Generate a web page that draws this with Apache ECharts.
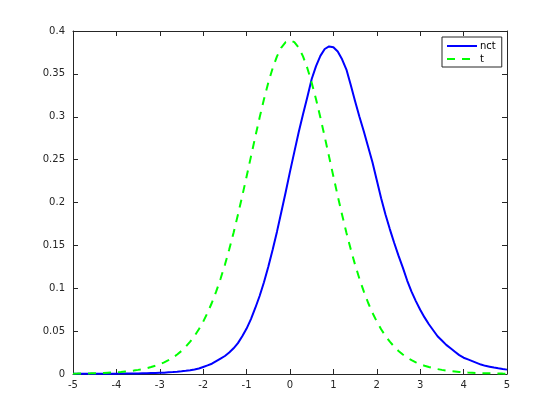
<!DOCTYPE html>
<html>
<head>
<meta charset="utf-8">
<script src="https://cdn.jsdelivr.net/npm/echarts@6/dist/echarts.min.js"></script>
<style>html,body{margin:0;padding:0;background:#fff}#c{width:560px;height:420px}</style>
</head>
<body>
<div id="c"></div>
<script>
// x grid: -5 to 5 step 0.1
var xStart = -5, xStep = 0.1;
var nctValues = [
0.0002,0.0002,0.0002,0.0002,0.0003,0.0003,0.0003,0.0003,0.0004,0.0004,
0.0004,0.0005,0.0005,0.0006,0.0007,0.0007,0.0008,0.0009,0.0011,0.0012,
0.0014,0.0016,0.0019,0.0022,0.0026,0.0031,0.0037,0.0044,0.0053,0.0064,
0.0082,0.010,0.012,0.015,0.018,0.021,0.025,0.030,0.036,0.044,
0.053,0.064,0.077,0.091,0.107,0.125,0.145,0.166,0.189,0.212,
0.236,0.259,0.282,0.303,0.323,0.344,0.359,0.371,0.379,0.382,
0.381,0.376,0.367,0.355,0.337,0.318,0.300,0.283,0.265,0.247,
0.226,0.205,0.186,0.169,0.153,0.138,0.124,0.109,0.096,0.085,
0.075,0.066,0.058,0.051,0.044,0.039,0.034,0.030,0.026,0.022,
0.019,0.017,0.015,0.013,0.011,0.0095,0.0085,0.0075,0.0066,0.0058,
0.0051
];
var tValues = [
0.0004,0.00046,0.00054,0.00064,0.00075,0.00088,0.0010,0.0012,0.0015,0.0017,
0.0020,0.0024,0.0029,0.0034,0.0040,0.0048,0.0057,0.0068,0.0081,0.0096,
0.0114,0.0136,0.0161,0.0192,0.0227,0.0269,0.0319,0.0377,0.0444,0.0522,
0.0611,0.0714,0.0831,0.0963,0.1111,0.1274,0.1454,0.1648,0.1857,0.2076,
0.2304,0.2535,0.2766,0.2991,0.3203,0.3397,0.3566,0.3704,0.3807,0.3870,
0.3891,
0.3870,0.3807,0.3704,0.3566,0.3397,0.3203,0.2991,0.2766,0.2535,0.2304,
0.2076,0.1857,0.1648,0.1454,0.1274,0.1111,0.0963,0.0831,0.0714,0.0611,
0.0522,0.0444,0.0377,0.0319,0.0269,0.0227,0.0192,0.0161,0.0136,0.0114,
0.0096,0.0081,0.0068,0.0057,0.0048,0.0040,0.0034,0.0029,0.0024,0.0020,
0.0017,0.0015,0.0012,0.0010,0.00088,0.00075,0.00064,0.00054,0.00046,0.0004
];
var seriesNames = ['nct', 't'];

function pairs(vals){
  return vals.map(function(v,i){ return [+(xStart + i*xStep).toFixed(2), v]; });
}
var axisCol = '#262626';
var font = 'DejaVu Sans';
var chart = echarts.init(document.getElementById('c'), null, {renderer:'canvas'});
chart.setOption({
  animation:false,
  backgroundColor:'#fff',
  grid:{left:73,right:53,top:31,bottom:46},
  legend:{
    orient:'vertical', left:442, top:37,
    padding:[4,6,3,4], itemGap:3,
    itemWidth:30, itemHeight:10,
    borderColor:axisCol, borderWidth:1, backgroundColor:'#fff',
    itemStyle:{opacity:0},
    textStyle:{fontFamily:font,fontSize:10,color:'#000',padding:[0,0,0,-2]},
    data:seriesNames
  },
  xAxis:[{
    type:'value', min:-5, max:5, interval:1, position:'bottom',
    axisLine:{show:true,onZero:false,lineStyle:{color:axisCol,width:1}},
    axisTick:{show:true,inside:true,length:5,lineStyle:{color:axisCol}},
    axisLabel:{fontFamily:font,fontSize:10,color:axisCol,margin:6},
    splitLine:{show:false}
  },{
    type:'value', min:-5, max:5, interval:1, position:'top',
    axisLine:{show:true,onZero:false,lineStyle:{color:axisCol,width:1}},
    axisTick:{show:true,inside:true,length:5,lineStyle:{color:axisCol}},
    axisLabel:{show:false}, splitLine:{show:false}
  }],
  yAxis:[{
    type:'value', min:0, max:0.4, interval:0.05, position:'left',
    axisLine:{show:true,onZero:false,lineStyle:{color:axisCol,width:1}},
    axisTick:{show:true,inside:true,length:5,lineStyle:{color:axisCol}},
    axisLabel:{fontFamily:font,fontSize:10,color:axisCol,margin:8,
      formatter:function(v){return +v.toFixed(2)+'';}},
    splitLine:{show:false}
  },{
    type:'value', min:0, max:0.4, interval:0.05, position:'right',
    axisLine:{show:true,onZero:false,lineStyle:{color:axisCol,width:1}},
    axisTick:{show:true,inside:true,length:5,lineStyle:{color:axisCol}},
    axisLabel:{show:false}, splitLine:{show:false}
  }],
  series:[{
    name:seriesNames[0], type:'line', data:pairs(nctValues),
    symbol:'none', color:'#0000ff',
    lineStyle:{color:'#0000ff',width:2}
  },{
    name:seriesNames[1], type:'line', data:pairs(tValues),
    symbol:'none', color:'#00ff00',
    lineStyle:{color:'#00ff00',width:2,type:[8,7]}
  }]
});
</script>
</body>
</html>
